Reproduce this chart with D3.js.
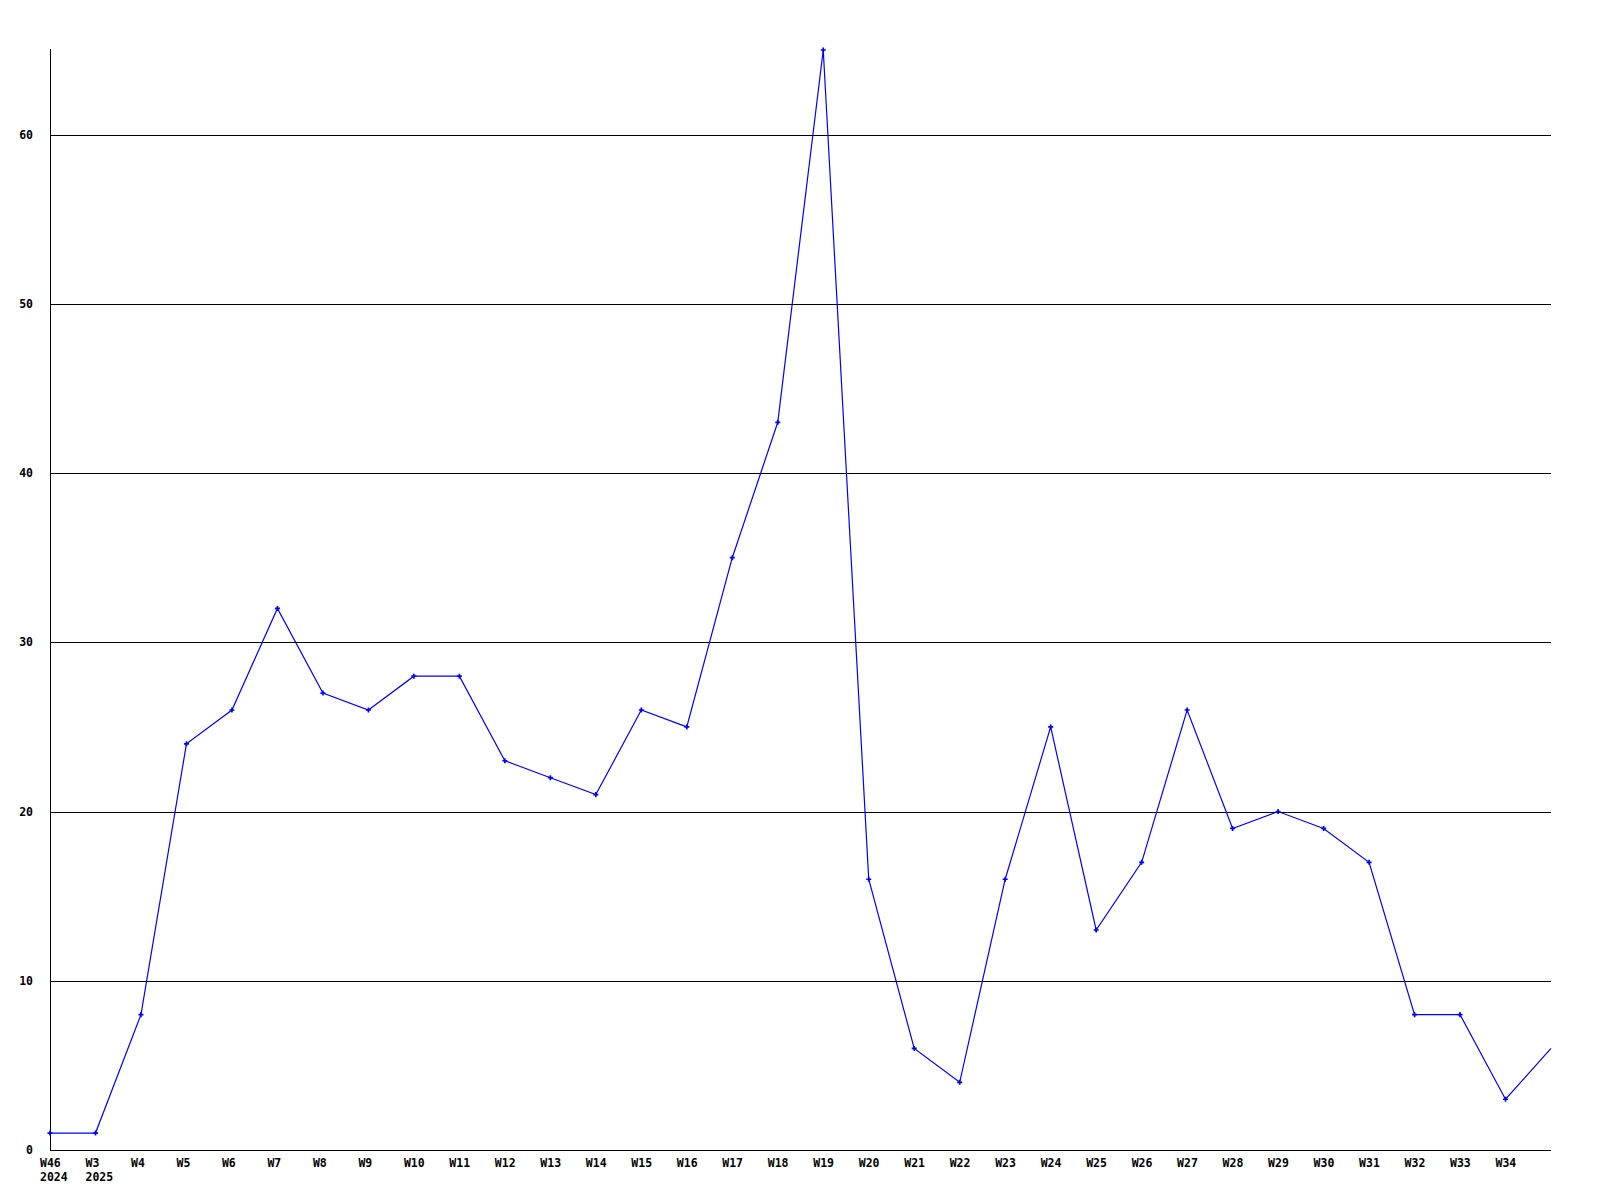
<!DOCTYPE html>
<html><head><meta charset="utf-8">
<script src="https://cdn.jsdelivr.net/npm/d3@7"></script>
<style>body{margin:0;background:#fff}svg{display:block}</style>
</head><body>
<script>
const weeks = ["W46","W3","W4","W5","W6","W7","W8","W9","W10","W11","W12","W13","W14","W15","W16","W17","W18","W19","W20","W21","W22","W23","W24","W25","W26","W27","W28","W29","W30","W31","W32","W33","W34",""];
const years = ["2024","2025"];
const values = [1,1,8,24,26,32,27,26,28,28,23,22,21,26,25,35,43,65,16,6,4,16,25,13,17,26,19,20,19,17,8,8,3,6];
const yTicks = [0,10,20,30,40,50,60];

const W = 1600, H = 1200;
const mLeft = 50, mRight = 1551, mTop = 50, mBottom = 1150;
const svg = d3.select("body").append("svg").attr("width", W).attr("height", H);
const x = d3.scaleLinear().domain([0, values.length - 1]).range([mLeft, mRight]);
const y = d3.scaleLinear().domain([0, 65]).range([mBottom, mTop]);
const font = "'DejaVu Sans Mono', monospace";
const fs = "11.5px";

// gridlines
svg.append("g").selectAll("line").data(yTicks.filter(d => d > 0)).join("line")
  .attr("x1", mLeft).attr("x2", mRight)
  .attr("y1", d => Math.round(y(d)) + 0.5).attr("y2", d => Math.round(y(d)) + 0.5)
  .attr("stroke", "#000").attr("stroke-width", 1).attr("shape-rendering", "crispEdges");

// y labels
svg.append("g").selectAll("text").data(yTicks).join("text")
  .attr("x", 33).attr("y", d => Math.round(y(d)) + 4)
  .attr("text-anchor", "end").attr("font-family", font).attr("font-weight", "bold")
  .attr("font-size", fs).attr("fill", "#000").text(d => d);

// axes lines
svg.append("line").attr("x1", mLeft + 0.5).attr("x2", mLeft + 0.5).attr("y1", mTop - 1).attr("y2", mBottom + 1)
  .attr("stroke", "#000").attr("shape-rendering", "crispEdges");
svg.append("line").attr("x1", mLeft).attr("x2", mRight).attr("y1", mBottom + 0.5).attr("y2", mBottom + 0.5)
  .attr("stroke", "#000").attr("shape-rendering", "crispEdges");

// x labels (left-anchored slightly before each point)
const xl = svg.append("g");
xl.selectAll("text.w").data(weeks).join("text").attr("class", "w")
  .attr("x", (d, i) => x(i) - 10).attr("y", 1167)
  .attr("text-anchor", "start").attr("font-family", font).attr("font-weight", "bold")
  .attr("font-size", fs).attr("fill", "#000").text(d => d);
xl.selectAll("text.yr").data(years).join("text").attr("class", "yr")
  .attr("x", (d, i) => x(i) - 10).attr("y", 1181)
  .attr("text-anchor", "start").attr("font-family", font).attr("font-weight", "bold")
  .attr("font-size", fs).attr("fill", "#000").text(d => d);

// line
const line = d3.line().x((d, i) => x(i)).y(d => y(d));
svg.append("path").datum(values).attr("d", line)
  .attr("fill", "none").attr("stroke", "#0000ff").attr("stroke-width", 1.2);

// markers (exclude last point at edge)
svg.append("g").selectAll("path").data(values.slice(0, values.length - 1)).join("path")
  .attr("transform", (d, i) => `translate(${x(i)},${y(d)})`)
  .attr("d", d3.symbol(d3.symbolCross, 14)())
  .attr("fill", "#0000ff");
</script>
</body></html>
